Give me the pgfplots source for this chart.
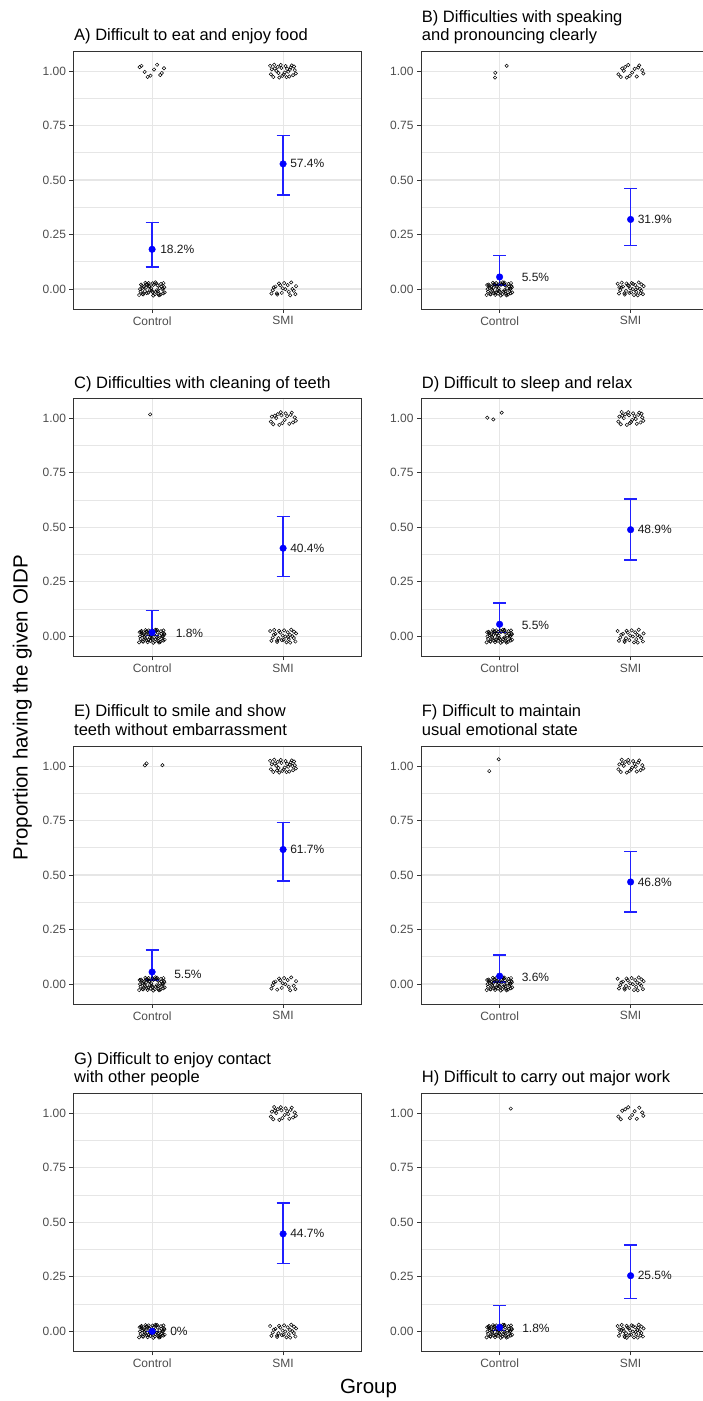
\documentclass[border=0pt]{standalone}
\usepackage{fontspec}
\setmainfont{Liberation Sans}
\usepackage{pgfplots}
\pgfplotsset{compat=1.18}
\definecolor{gridc}{HTML}{E6E6E6}
\definecolor{framec}{HTML}{333333}
\definecolor{tickc}{HTML}{4D4D4D}
\definecolor{barc}{HTML}{2020FF}
\pgfplotsset{
  oidp/.style={
    scale only axis, width=288.2pt, height=258pt, anchor=north west,
    xmin=0.4, xmax=2.6, ymin=-0.092, ymax=1.092,
    xtick={1,2}, xticklabels={Control,SMI},
    ytick={0,0.25,0.5,0.75,1}, yticklabels={0.00,0.25,0.50,0.75,1.00},
    minor ytick={0.125,0.375,0.625,0.875},
    grid=both,
    major grid style={draw=gridc, line width=1.1pt},
    minor grid style={draw=gridc, line width=0.55pt},
    axis line style={draw=framec, line width=0.9pt},
    tick style={draw=framec, line width=0.9pt},
    major tick length=4pt, minor tick length=0pt,
    tick align=outside, tick pos=left,
    ticklabel style={font=\fontsize{12}{14}\selectfont, text=tickc},
    unbounded coords=jump,
  },
  jit/.style={only marks, mark=o, mark size=1.7pt, mark options={draw=black, line width=0.5pt}},
  wb/.style={draw=barc, line width=1.5pt, mark=none, unbounded coords=jump},
  dot/.style={only marks, mark=*, mark size=3.3pt, mark options={draw=blue, fill=blue}},
}
\tikzset{
  lab/.style={anchor=west, inner sep=0pt, font=\fontsize{12}{14}\selectfont, text=black!90},
  ttl/.style={anchor=base west, inner sep=0pt, font=\fontsize{16.5}{18}\selectfont},
}
\begin{document}
\begin{tikzpicture}
\useasboundingbox (0,0) rectangle (702pt,-1401pt);

% ---------- A ----------
\node[ttl] at (74pt,-40.7pt) {A) Difficult to eat and enjoy food};
\begin{axis}[oidp, at={(73.5pt,-51pt)}]
\addplot[jit] coordinates {
(1.062,0.982) (0.919,1.024) (1.015,1.007) (0.966,0.973) (1.091,1.013)
(0.943,0.996) (1.038,1.029) (0.988,0.979) (1.074,0.991) (0.905,1.018)
(1.027,-0.013) (0.954,0.021) (1.083,0.002) (0.932,-0.025) (1.004,0.026)
(1.053,-0.029) (0.977,0.011) (1.096,-0.016) (0.925,0.005) (1.041,0.017)
(0.997,-0.008) (1.068,0.023) (0.912,-0.012) (1.021,-0.024) (0.949,0.028)
(1.079,-0.002) (0.971,-0.017) (1.011,0.019) (0.937,0.009) (1.057,0.004)
(0.901,-0.028) (1.033,0.025) (0.984,-0.005) (1.087,0.027) (0.959,-0.019)
(1.002,-0.014) (0.922,0.015) (1.049,-0.022) (0.993,0.003) (1.071,0.012)
(0.945,-0.010) (1.025,0.030) (0.908,-0.001) (1.064,-0.026) (0.963,0.022)
(1.093,0.008) (0.981,0.014) (1.044,-0.011) (0.928,-0.023) (1.009,-0.030)
(0.952,0.006) (1.085,-0.020) (0.974,0.027) (1.036,-0.006) (0.916,0.020)
(1.936,1.012) (2.047,0.975) (1.982,1.028) (2.089,1.004) (1.907,0.985)
(2.012,0.993) (1.959,1.019) (2.066,1.026) (1.925,0.973) (2.031,1.010)
(1.994,0.978) (2.097,0.989) (1.948,1.001) (2.058,1.016) (1.971,0.970)
(2.019,1.023) (1.914,1.008) (2.076,0.981) (1.987,1.014) (2.039,0.997)
(1.932,1.029) (2.004,0.984) (2.083,1.021) (1.965,0.991) (2.052,1.006)
(1.901,1.024) (2.026,0.972)
(1.953,-0.020) (2.071,0.000) (1.978,0.017)
(2.094,-0.024) (1.921,-0.006) (2.008,0.027) (1.942,0.011) (2.043,-0.013)
(1.997,0.003) (2.062,0.030) (1.911,-0.021) (2.017,-0.001) (1.969,0.025)
(2.081,-0.008) (1.955,-0.026) (2.035,0.018) (1.929,0.007) (2.099,0.013)
(1.990,-0.018) (2.054,-0.029)
};
\addplot[wb] coordinates {(1,0.100) (1,0.305) (nan,nan) (0.95,0.100) (1.05,0.100) (nan,nan) (0.95,0.305) (1.05,0.305) (nan,nan)
 (2,0.431) (2,0.705) (nan,nan) (1.95,0.431) (2.05,0.431) (nan,nan) (1.95,0.705) (2.05,0.705)};
\addplot[dot] coordinates {(1,0.182) (2,0.574)};
\node[lab, xshift=8pt] at (axis cs:1,0.180) {18.2\%};
\node[lab, xshift=7pt] at (axis cs:2,0.574) {57.4\%};
\end{axis}

% ---------- B ----------
\node[ttl] at (421.7pt,-22.7pt) {B) Difficulties with speaking};
\node[ttl] at (421.7pt,-40.5pt) {and pronouncing clearly};
\begin{axis}[oidp, at={(421pt,-51pt)}]
\addplot[jit] coordinates {
(0.965,0.970) (0.967,0.992) (1.054,1.024)
(0.966,-0.027) (1.091,0.013)
(0.943,-0.004) (1.038,0.029) (0.988,-0.021) (1.074,-0.009) (0.905,0.018)
(1.027,-0.013) (0.954,0.021) (1.083,0.002) (0.932,-0.025) (1.004,0.026)
(1.053,-0.029) (0.977,0.011) (1.096,-0.016) (0.925,0.005) (1.041,0.017)
(0.997,-0.008) (1.068,0.023) (0.912,-0.012) (1.021,-0.024) (0.949,0.028)
(1.079,-0.002) (0.971,-0.017) (1.011,0.019) (0.937,0.009) (1.057,0.004)
(0.901,-0.028) (1.033,0.025) (0.984,-0.005) (1.087,0.027) (0.959,-0.019)
(1.002,-0.014) (0.922,0.015) (1.049,-0.022) (0.993,0.003) (1.071,0.012)
(0.945,-0.010) (1.025,0.030) (0.908,-0.001) (1.064,-0.026) (0.963,0.022)
(1.093,0.008) (0.981,0.014) (1.044,-0.011) (0.928,-0.023) (1.009,-0.030)
(0.952,0.006) (1.085,-0.020) (0.974,0.027) (1.036,-0.006) (0.916,0.020)
(1.936,1.012) (2.047,0.975) (1.982,1.028) (2.089,1.004) (1.907,0.985)
(2.012,0.993) (1.959,1.019) (2.066,1.026) (1.925,0.973) (2.031,1.010)
(1.994,0.978) (2.097,0.989) (1.948,1.001) (2.058,1.016) (1.971,0.970)
(2.019,0.023) (1.914,0.008) (2.076,-0.019) (1.987,0.014) (2.039,-0.003)
(1.932,0.029) (2.004,-0.016) (2.083,0.021) (1.965,-0.009) (2.052,0.006)
(1.901,0.024) (2.026,-0.028) (1.953,-0.020) (2.071,0.000) (1.978,0.017)
(2.094,-0.024) (1.921,-0.006) (2.008,0.027) (1.942,0.011) (2.043,-0.013)
(1.997,0.003) (2.062,0.030) (1.911,-0.021) (2.017,-0.001) (1.969,0.025)
(2.081,-0.008) (1.955,-0.026) (2.035,0.018) (1.929,0.007) (2.099,0.013)
(1.990,-0.018) (2.054,-0.029)
};
\addplot[wb] coordinates {(1,0.018) (1,0.153) (nan,nan) (0.95,0.018) (1.05,0.018) (nan,nan) (0.95,0.153) (1.05,0.153) (nan,nan)
 (2,0.200) (2,0.462) (nan,nan) (1.95,0.200) (2.05,0.200) (nan,nan) (1.95,0.462) (2.05,0.462)};
\addplot[dot] coordinates {(1,0.055) (2,0.319)};
\node[lab, xshift=22pt] at (axis cs:1,0.052) {5.5\%};
\node[lab, xshift=7pt] at (axis cs:2,0.319) {31.9\%};
\end{axis}

% ---------- C ----------
\node[ttl] at (74pt,-388.3pt) {C) Difficulties with cleaning of teeth};
\begin{axis}[oidp, at={(73.5pt,-398.3pt)}]
\addplot[jit] coordinates {
(0.985,1.018)
(0.919,0.024) (1.015,0.007) (0.966,-0.027) (1.091,0.013)
(0.943,-0.004) (1.038,0.029) (0.988,-0.021) (1.074,-0.009) (0.905,0.018)
(1.027,-0.013) (0.954,0.021) (1.083,0.002) (0.932,-0.025) (1.004,0.026)
(1.053,-0.029) (0.977,0.011) (1.096,-0.016) (0.925,0.005) (1.041,0.017)
(0.997,-0.008) (1.068,0.023) (0.912,-0.012) (1.021,-0.024) (0.949,0.028)
(1.079,-0.002) (0.971,-0.017) (1.011,0.019) (0.937,0.009) (1.057,0.004)
(0.901,-0.028) (1.033,0.025) (0.984,-0.005) (1.087,0.027) (0.959,-0.019)
(1.002,-0.014) (0.922,0.015) (1.049,-0.022) (0.993,0.003) (1.071,0.012)
(0.945,-0.010) (1.025,0.030) (0.908,-0.001) (1.064,-0.026) (0.963,0.022)
(1.093,0.008) (0.981,0.014) (1.044,-0.011) (0.928,-0.023) (1.009,-0.030)
(0.952,0.006) (1.085,-0.020) (0.974,0.027) (1.036,-0.006) (0.916,0.020)
(1.936,1.012) (2.047,0.975) (1.982,1.028) (2.089,1.004) (1.907,0.985)
(2.012,0.993) (1.959,1.019) (2.066,1.026) (1.925,0.973) (2.031,1.010)
(1.994,0.978) (2.097,0.989) (1.948,1.001) (2.058,1.016) (1.971,0.970)
(2.019,1.023) (1.914,1.008) (2.076,0.981) (1.987,1.014)
(2.039,-0.003)
(1.932,0.029) (2.004,-0.016) (2.083,0.021) (1.965,-0.009) (2.052,0.006)
(1.901,0.024) (2.026,-0.028) (1.953,-0.020) (2.071,0.000) (1.978,0.017)
(2.094,-0.024) (1.921,-0.006) (2.008,0.027) (1.942,0.011) (2.043,-0.013)
(1.997,0.003) (2.062,0.030) (1.911,-0.021) (2.017,-0.001) (1.969,0.025)
(2.081,-0.008) (1.955,-0.026) (2.035,0.018) (1.929,0.007) (2.099,0.013)
(1.990,-0.018) (2.054,-0.029)
};
\addplot[wb] coordinates {(1,0.003) (1,0.118) (nan,nan) (0.95,0.003) (1.05,0.003) (nan,nan) (0.95,0.118) (1.05,0.118) (nan,nan)
 (2,0.274) (2,0.549) (nan,nan) (1.95,0.274) (2.05,0.274) (nan,nan) (1.95,0.549) (2.05,0.549)};
\addplot[dot] coordinates {(1,0.018) (2,0.404)};
\node[lab, xshift=23.5pt] at (axis cs:1,0.014) {1.8\%};
\node[lab, xshift=7pt] at (axis cs:2,0.404) {40.4\%};
\end{axis}

% ---------- D ----------
\node[ttl] at (421.7pt,-388.3pt) {D) Difficult to sleep and relax};
\begin{axis}[oidp, at={(421pt,-398.3pt)}]
\addplot[jit] coordinates {
(0.906,1.003) (0.952,0.995) (1.016,1.026)
(0.966,-0.027) (1.091,0.013)
(0.943,-0.004) (1.038,0.029) (0.988,-0.021) (1.074,-0.009) (0.905,0.018)
(1.027,-0.013) (0.954,0.021) (1.083,0.002) (0.932,-0.025) (1.004,0.026)
(1.053,-0.029) (0.977,0.011) (1.096,-0.016) (0.925,0.005) (1.041,0.017)
(0.997,-0.008) (1.068,0.023) (0.912,-0.012) (1.021,-0.024) (0.949,0.028)
(1.079,-0.002) (0.971,-0.017) (1.011,0.019) (0.937,0.009) (1.057,0.004)
(0.901,-0.028) (1.033,0.025) (0.984,-0.005) (1.087,0.027) (0.959,-0.019)
(1.002,-0.014) (0.922,0.015) (1.049,-0.022) (0.993,0.003) (1.071,0.012)
(0.945,-0.010) (1.025,0.030) (0.908,-0.001) (1.064,-0.026) (0.963,0.022)
(1.093,0.008) (0.981,0.014) (1.044,-0.011) (0.928,-0.023) (1.009,-0.030)
(0.952,0.006) (1.085,-0.020) (0.974,0.027) (1.036,-0.006) (0.916,0.020)
(1.936,1.012) (2.047,0.975) (1.982,1.028) (2.089,1.004) (1.907,0.985)
(2.012,0.993) (1.959,1.019) (2.066,1.026) (1.925,0.973) (2.031,1.010)
(1.994,0.978) (2.097,0.989) (1.948,1.001) (2.058,1.016) (1.971,0.970)
(2.019,1.023) (1.914,1.008) (2.076,0.981) (1.987,1.014) (2.039,0.997)
(1.932,1.029) (2.004,0.984) (2.083,1.021)
(1.965,-0.009) (2.052,0.006)
(1.901,0.024) (2.026,-0.028) (1.953,-0.020) (2.071,0.000) (1.978,0.017)
(2.094,-0.024) (1.921,-0.006) (2.008,0.027) (1.942,0.011) (2.043,-0.013)
(1.997,0.003) (2.062,0.030) (1.911,-0.021) (2.017,-0.001) (1.969,0.025)
(2.081,-0.008) (1.955,-0.026) (2.035,0.018) (1.929,0.007) (2.099,0.013)
(1.990,-0.018) (2.054,-0.029)
};
\addplot[wb] coordinates {(1,0.018) (1,0.153) (nan,nan) (0.95,0.018) (1.05,0.018) (nan,nan) (0.95,0.153) (1.05,0.153) (nan,nan)
 (2,0.351) (2,0.630) (nan,nan) (1.95,0.351) (2.05,0.351) (nan,nan) (1.95,0.630) (2.05,0.630)};
\addplot[dot] coordinates {(1,0.055) (2,0.489)};
\node[lab, xshift=22pt] at (axis cs:1,0.049) {5.5\%};
\node[lab, xshift=7pt] at (axis cs:2,0.489) {48.9\%};
\end{axis}

% ---------- E ----------
\node[ttl] at (74pt,-716.7pt) {E) Difficult to smile and show};
\node[ttl] at (74pt,-735pt) {teeth without embarrassment};
\begin{axis}[oidp, at={(73.5pt,-746pt)}]
\addplot[jit] coordinates {
(0.945,1.003) (0.958,1.012) (1.079,1.004)
(0.966,-0.027) (1.091,0.013)
(0.943,-0.004) (1.038,0.029) (0.988,-0.021) (1.074,-0.009) (0.905,0.018)
(1.027,-0.013) (0.954,0.021) (1.083,0.002) (0.932,-0.025) (1.004,0.026)
(1.053,-0.029) (0.977,0.011) (1.096,-0.016) (0.925,0.005) (1.041,0.017)
(0.997,-0.008) (1.068,0.023) (0.912,-0.012) (1.021,-0.024) (0.949,0.028)
(1.079,-0.002) (0.971,-0.017) (1.011,0.019) (0.937,0.009) (1.057,0.004)
(0.901,-0.028) (1.033,0.025) (0.984,-0.005) (1.087,0.027) (0.959,-0.019)
(1.002,-0.014) (0.922,0.015) (1.049,-0.022) (0.993,0.003) (1.071,0.012)
(0.945,-0.010) (1.025,0.030) (0.908,-0.001) (1.064,-0.026) (0.963,0.022)
(1.093,0.008) (0.981,0.014) (1.044,-0.011) (0.928,-0.023) (1.009,-0.030)
(0.952,0.006) (1.085,-0.020) (0.974,0.027) (1.036,-0.006) (0.916,0.020)
(1.936,1.012) (2.047,0.975) (1.982,1.028) (2.089,1.004) (1.907,0.985)
(2.012,0.993) (1.959,1.019) (2.066,1.026) (1.925,0.973) (2.031,1.010)
(1.994,0.978) (2.097,0.989) (1.948,1.001) (2.058,1.016) (1.971,0.970)
(2.019,1.023) (1.914,1.008) (2.076,0.981) (1.987,1.014) (2.039,0.997)
(1.932,1.029) (2.004,0.984) (2.083,1.021) (1.965,0.991) (2.052,1.006)
(1.901,1.024) (2.026,0.972) (1.953,0.980) (2.071,1.000)
(1.978,0.017)
(2.094,-0.024) (1.921,-0.006) (2.008,0.027) (1.942,0.011) (2.043,-0.013)
(1.997,0.003) (2.062,0.030) (1.911,-0.021) (2.017,-0.001) (1.969,0.025)
(2.081,-0.008) (1.955,-0.026) (2.035,0.018) (1.929,0.007) (2.099,0.013)
(1.990,-0.018) (2.054,-0.029)
};
\addplot[wb] coordinates {(1,0.018) (1,0.155) (nan,nan) (0.95,0.018) (1.05,0.018) (nan,nan) (0.95,0.155) (1.05,0.155) (nan,nan)
 (2,0.472) (2,0.741) (nan,nan) (1.95,0.472) (2.05,0.472) (nan,nan) (1.95,0.741) (2.05,0.741)};
\addplot[dot] coordinates {(1,0.055) (2,0.617)};
\node[lab, xshift=22pt] at (axis cs:1,0.046) {5.5\%};
\node[lab, xshift=7pt] at (axis cs:2,0.617) {61.7\%};
\end{axis}

% ---------- F ----------
\node[ttl] at (421.7pt,-716.7pt) {F) Difficult to maintain};
\node[ttl] at (421.7pt,-735pt) {usual emotional state};
\begin{axis}[oidp, at={(421pt,-746pt)}]
\addplot[jit] coordinates {
(0.921,0.977) (0.993,1.031)
(1.015,0.007) (0.966,-0.027) (1.091,0.013)
(0.943,-0.004) (1.038,0.029) (0.988,-0.021) (1.074,-0.009) (0.905,0.018)
(1.027,-0.013) (0.954,0.021) (1.083,0.002) (0.932,-0.025) (1.004,0.026)
(1.053,-0.029) (0.977,0.011) (1.096,-0.016) (0.925,0.005) (1.041,0.017)
(0.997,-0.008) (1.068,0.023) (0.912,-0.012) (1.021,-0.024) (0.949,0.028)
(1.079,-0.002) (0.971,-0.017) (1.011,0.019) (0.937,0.009) (1.057,0.004)
(0.901,-0.028) (1.033,0.025) (0.984,-0.005) (1.087,0.027) (0.959,-0.019)
(1.002,-0.014) (0.922,0.015) (1.049,-0.022) (0.993,0.003) (1.071,0.012)
(0.945,-0.010) (1.025,0.030) (0.908,-0.001) (1.064,-0.026) (0.963,0.022)
(1.093,0.008) (0.981,0.014) (1.044,-0.011) (0.928,-0.023) (1.009,-0.030)
(0.952,0.006) (1.085,-0.020) (0.974,0.027) (1.036,-0.006) (0.916,0.020)
(1.936,1.012) (2.047,0.975) (1.982,1.028) (2.089,1.004) (1.907,0.985)
(2.012,0.993) (1.959,1.019) (2.066,1.026) (1.925,0.973) (2.031,1.010)
(1.994,0.978) (2.097,0.989) (1.948,1.001) (2.058,1.016) (1.971,0.970)
(2.019,1.023) (1.914,1.008) (2.076,0.981) (1.987,1.014) (2.039,0.997)
(1.932,1.029) (2.004,0.984)
(2.083,0.021) (1.965,-0.009) (2.052,0.006)
(1.901,0.024) (2.026,-0.028) (1.953,-0.020) (2.071,0.000) (1.978,0.017)
(2.094,-0.024) (1.921,-0.006) (2.008,0.027) (1.942,0.011) (2.043,-0.013)
(1.997,0.003) (2.062,0.030) (1.911,-0.021) (2.017,-0.001) (1.969,0.025)
(2.081,-0.008) (1.955,-0.026) (2.035,0.018) (1.929,0.007) (2.099,0.013)
(1.990,-0.018) (2.054,-0.029)
};
\addplot[wb] coordinates {(1,0.010) (1,0.132) (nan,nan) (0.95,0.010) (1.05,0.010) (nan,nan) (0.95,0.132) (1.05,0.132) (nan,nan)
 (2,0.331) (2,0.609) (nan,nan) (1.95,0.331) (2.05,0.331) (nan,nan) (1.95,0.609) (2.05,0.609)};
\addplot[dot] coordinates {(1,0.036) (2,0.468)};
\node[lab, xshift=22pt] at (axis cs:1,0.030) {3.6\%};
\node[lab, xshift=7pt] at (axis cs:2,0.468) {46.8\%};
\end{axis}

% ---------- G ----------
\node[ttl] at (74pt,-1064pt) {G) Difficult to enjoy contact};
\node[ttl] at (74pt,-1082pt) {with other people};
\begin{axis}[oidp, at={(73.5pt,-1093.3pt)}]
\addplot[jit] coordinates {
(1.062,-0.018) (0.919,0.024) (1.015,0.007) (0.966,-0.027) (1.091,0.013)
(0.943,-0.004) (1.038,0.029) (0.988,-0.021) (1.074,-0.009) (0.905,0.018)
(1.027,-0.013) (0.954,0.021) (1.083,0.002) (0.932,-0.025) (1.004,0.026)
(1.053,-0.029) (0.977,0.011) (1.096,-0.016) (0.925,0.005) (1.041,0.017)
(0.997,-0.008) (1.068,0.023) (0.912,-0.012) (1.021,-0.024) (0.949,0.028)
(1.079,-0.002) (0.971,-0.017) (1.011,0.019) (0.937,0.009) (1.057,0.004)
(0.901,-0.028) (1.033,0.025) (0.984,-0.005) (1.087,0.027) (0.959,-0.019)
(1.002,-0.014) (0.922,0.015) (1.049,-0.022) (0.993,0.003) (1.071,0.012)
(0.945,-0.010) (1.025,0.030) (0.908,-0.001) (1.064,-0.026) (0.963,0.022)
(1.093,0.008) (0.981,0.014) (1.044,-0.011) (0.928,-0.023) (1.009,-0.030)
(0.952,0.006) (1.085,-0.020) (0.974,0.027) (1.036,-0.006) (0.916,0.020)
(1.936,1.012) (2.047,0.975) (1.982,1.028) (2.089,1.004) (1.907,0.985)
(2.012,0.993) (1.959,1.019) (2.066,1.026) (1.925,0.973) (2.031,1.010)
(1.994,0.978) (2.097,0.989) (1.948,1.001) (2.058,1.016) (1.971,0.970)
(2.019,1.023) (1.914,1.008) (2.076,0.981) (1.987,1.014) (2.039,0.997)
(1.932,1.029)
(2.004,-0.016) (2.083,0.021) (1.965,-0.009) (2.052,0.006)
(1.901,0.024) (2.026,-0.028) (1.953,-0.020) (2.071,0.000) (1.978,0.017)
(2.094,-0.024) (1.921,-0.006) (2.008,0.027) (1.942,0.011) (2.043,-0.013)
(1.997,0.003) (2.062,0.030) (1.911,-0.021) (2.017,-0.001) (1.969,0.025)
(2.081,-0.008) (1.955,-0.026) (2.035,0.018) (1.929,0.007) (2.099,0.013)
(1.990,-0.018) (2.054,-0.029)
};
\addplot[wb] coordinates {(0.95,0) (1.05,0) (nan,nan)
 (2,0.311) (2,0.589) (nan,nan) (1.95,0.311) (2.05,0.311) (nan,nan) (1.95,0.589) (2.05,0.589)};
\addplot[dot] coordinates {(1,0) (2,0.447)};
\node[lab, xshift=18pt] at (axis cs:1,0) {0\%};
\node[lab, xshift=7pt] at (axis cs:2,0.447) {44.7\%};
\end{axis}

% ---------- H ----------
\node[ttl] at (421.7pt,-1082.7pt) {H) Difficult to carry out major work};
\begin{axis}[oidp, at={(421pt,-1093.3pt)}]
\addplot[jit] coordinates {
(1.085,1.022)
(0.919,0.024) (1.015,0.007) (0.966,-0.027) (1.091,0.013)
(0.943,-0.004) (1.038,0.029) (0.988,-0.021) (1.074,-0.009) (0.905,0.018)
(1.027,-0.013) (0.954,0.021) (1.083,0.002) (0.932,-0.025) (1.004,0.026)
(1.053,-0.029) (0.977,0.011) (1.096,-0.016) (0.925,0.005) (1.041,0.017)
(0.997,-0.008) (1.068,0.023) (0.912,-0.012) (1.021,-0.024) (0.949,0.028)
(1.079,-0.002) (0.971,-0.017) (1.011,0.019) (0.937,0.009) (1.057,0.004)
(0.901,-0.028) (1.033,0.025) (0.984,-0.005) (1.087,0.027) (0.959,-0.019)
(1.002,-0.014) (0.922,0.015) (1.049,-0.022) (0.993,0.003) (1.071,0.012)
(0.945,-0.010) (1.025,0.030) (0.908,-0.001) (1.064,-0.026) (0.963,0.022)
(1.093,0.008) (0.981,0.014) (1.044,-0.011) (0.928,-0.023) (1.009,-0.030)
(0.952,0.006) (1.085,-0.020) (0.974,0.027) (1.036,-0.006) (0.916,0.020)
(1.936,1.012) (2.047,0.975) (1.982,1.028) (2.089,1.004) (1.907,0.985)
(2.012,0.993) (1.959,1.019) (2.066,1.026) (1.925,0.973) (2.031,1.010)
(1.994,0.978) (2.097,0.989)
(1.948,0.001) (2.058,0.016) (1.971,-0.030)
(2.019,0.023) (1.914,0.008) (2.076,-0.019) (1.987,0.014) (2.039,-0.003)
(1.932,0.029) (2.004,-0.016) (2.083,0.021) (1.965,-0.009) (2.052,0.006)
(1.901,0.024) (2.026,-0.028) (1.953,-0.020) (2.071,0.000) (1.978,0.017)
(2.094,-0.024) (1.921,-0.006) (2.008,0.027) (1.942,0.011) (2.043,-0.013)
(1.997,0.003) (2.062,0.030) (1.911,-0.021) (2.017,-0.001) (1.969,0.025)
(2.081,-0.008) (1.955,-0.026) (2.035,0.018) (1.929,0.007) (2.099,0.013)
(1.990,-0.018) (2.054,-0.029)
};
\addplot[wb] coordinates {(1,0.003) (1,0.119) (nan,nan) (0.95,0.003) (1.05,0.003) (nan,nan) (0.95,0.119) (1.05,0.119) (nan,nan)
 (2,0.151) (2,0.396) (nan,nan) (1.95,0.151) (2.05,0.151) (nan,nan) (1.95,0.396) (2.05,0.396)};
\addplot[dot] coordinates {(1,0.018) (2,0.255)};
\node[lab, xshift=22.5pt] at (axis cs:1,0.012) {1.8\%};
\node[lab, xshift=7pt] at (axis cs:2,0.255) {25.5\%};
\end{axis}

% ---------- shared labels ----------
\node[anchor=base, rotate=90, inner sep=0pt, font=\fontsize{20.5}{24}\selectfont] at (27.5pt,-707.5pt) {Proportion having the given OIDP};
\node[anchor=base, inner sep=0pt, font=\fontsize{20.5}{24}\selectfont] at (368.5pt,-1393.3pt) {Group};
\end{tikzpicture}
\end{document}
